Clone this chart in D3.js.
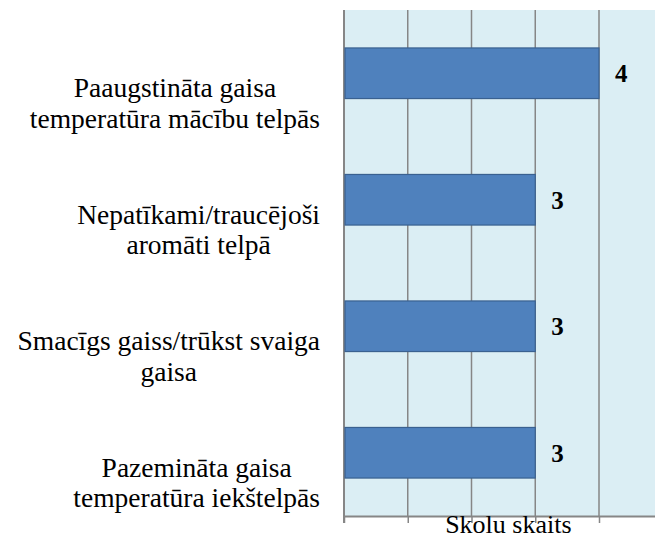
<!DOCTYPE html>
<html>
<head>
<meta charset="utf-8">
<script src="https://cdn.jsdelivr.net/npm/d3@7"></script>
<style>
  body { margin: 0; background: #fff; }
</style>
</head>
<body>
<div id="chart"></div>
<script>
// categories, top to bottom (each label split in lines)
var categories = [
  ["Paaugstināta gaisa", "temperatūra mācību telpās"],
  ["Nepatīkami/traucējoši", "aromāti telpā"],
  ["Smacīgs gaiss/trūkst svaiga", "gaisa"],
  ["Pazemināta gaisa", "temperatūra iekštelpās"]
];
var values = [4, 3, 3, 3];
var gridTicks = [0, 1, 2, 3, 4, 5];
var axisTitle = "Skolu skaits";

var W = 655, H = 539;
var margin = {top: 10, left: 344, bottom: 23};
var step = 63.75;          // pixels per unit on x
var labelRight = 320;      // right edge of the category labels
var serif = "Liberation Serif";

var svg = d3.select("#chart").append("svg")
    .attr("width", W)
    .attr("height", H);

var x = d3.scaleLinear()
    .domain([0, 5])
    .range([margin.left, margin.left + 5 * step]);

var y = d3.scaleBand()
    .domain(d3.range(categories.length))
    .range([margin.top, H - margin.bottom])
    .paddingInner(0.6)
    .paddingOuter(0.3);

var plotBottom = H - margin.bottom;

// plot background
svg.append("rect")
    .attr("x", x(0))
    .attr("y", margin.top)
    .attr("width", W - x(0))
    .attr("height", plotBottom - margin.top)
    .attr("fill", "#DBEEF4");

// vertical gridlines
svg.append("g")
    .attr("class", "grid")
    .selectAll("line")
    .data(gridTicks.slice(1))
  .enter().append("line")
    .attr("x1", d => x(d))
    .attr("x2", d => x(d))
    .attr("y1", margin.top)
    .attr("y2", plotBottom)
    .attr("stroke", "#868686")
    .attr("stroke-width", 1.5);

// bottom axis with ticks pointing down
var xAxis = svg.append("g")
    .attr("transform", "translate(0," + plotBottom + ")")
    .call(d3.axisBottom(x).tickValues(gridTicks).tickSize(7).tickSizeOuter(0).tickFormat(""));
xAxis.select(".domain").attr("stroke", "#868686").attr("stroke-width", 2);
xAxis.selectAll(".tick line").attr("stroke", "#868686").attr("stroke-width", 1.5);

// left axis line
svg.append("line")
    .attr("x1", x(0)).attr("x2", x(0))
    .attr("y1", margin.top).attr("y2", plotBottom + 7)
    .attr("stroke", "#868686")
    .attr("stroke-width", 2);

// bars
svg.selectAll(".bar")
    .data(values)
  .enter().append("rect")
    .attr("class", "bar")
    .attr("x", x(0) + 1)
    .attr("y", (d, i) => y(i))
    .attr("width", d => x(d) - x(0) - 1)
    .attr("height", y.bandwidth())
    .attr("fill", "#4F81BD")
    .attr("stroke", "#3A6190")
    .attr("stroke-width", 1.2);

// value labels
svg.selectAll(".val")
    .data(values)
  .enter().append("text")
    .attr("class", "val")
    .attr("x", d => x(d) + 16)
    .attr("y", (d, i) => y(i) + y.bandwidth() / 2 + 9)
    .attr("font-family", serif)
    .attr("font-size", 25)
    .attr("font-weight", "bold")
    .attr("fill", "#000")
    .text(d => d);

// category labels: lines centred, block right aligned
categories.forEach(function (lines, i) {
  var g = svg.append("g");
  var cy = y(i) + y.bandwidth() / 2;
  var texts = g.selectAll("text")
      .data(lines)
    .enter().append("text")
      .attr("font-family", serif)
      .attr("font-size", 27.5)
      .attr("text-anchor", "middle")
      .attr("fill", "#000")
      .attr("y", (d, j) => cy + 24 + j * 30.6)
      .text(d => d);
  var maxW = d3.max(texts.nodes(), n => n.getComputedTextLength());
  texts.attr("x", labelRight - maxW / 2);
});

// axis title
svg.append("text")
    .attr("x", x(2.5) + 5)
    .attr("y", 533)
    .attr("font-family", serif)
    .attr("font-size", 26)
    .attr("text-anchor", "middle")
    .attr("fill", "#000")
    .text(axisTitle);
</script>
</body>
</html>
